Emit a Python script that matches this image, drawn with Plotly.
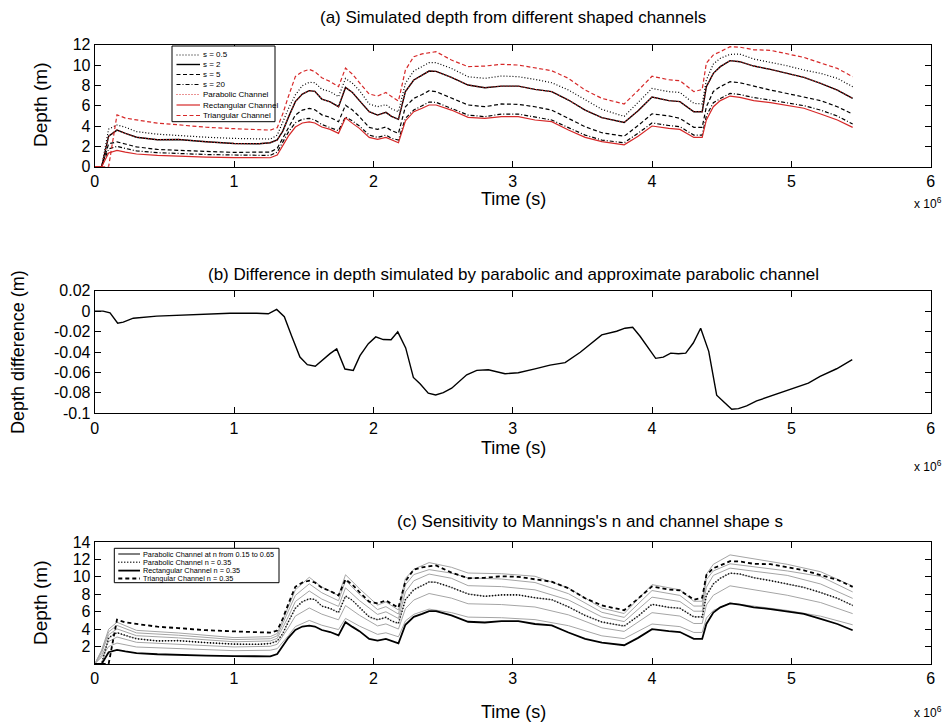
import plotly.graph_objects as go

W, H = 946, 723

# ---------------- data (time in units of 10^6 s) ----------------
TIME = [0, 0.05, 0.1, 0.16, 0.22, 0.3, 0.45, 0.6, 0.8, 1.0, 1.18, 1.26, 1.31, 1.35, 1.39, 1.44,
        1.49, 1.54, 1.58, 1.63, 1.69, 1.75, 1.8, 1.85, 1.9, 1.97, 2.03, 2.09, 2.13, 2.18, 2.23,
        2.29, 2.35, 2.4, 2.45, 2.56, 2.68, 2.8, 2.92, 3.04, 3.16, 3.28, 3.4, 3.52, 3.64, 3.8,
        3.9, 4.0, 4.12, 4.2, 4.3, 4.36, 4.39, 4.44, 4.49, 4.56, 4.63, 4.73, 4.85, 4.97, 5.09,
        5.21, 5.33, 5.44]

S_05 = [0, 0, 3.7, 4.1, 3.88, 3.45, 3.2, 3.05, 2.9, 2.78, 2.7, 2.72, 3.1, 4.4, 5.7, 7.06, 7.97,
        8.3, 8.26, 7.62, 7.38, 6.88, 8.68, 8.2, 7.5, 6.17, 5.9, 6.1, 5.7, 5.41, 8.2, 9.41, 9.9,
        10.23, 10.23, 9.67, 8.85, 8.69, 8.92, 8.85, 8.59, 8.26, 7.54, 6.56, 5.64, 4.95, 6.3, 7.7,
        7.38, 7.3, 6.23, 6.17, 8.53, 10.1, 10.66, 11.05, 11.08, 10.59, 10.26, 9.93, 9.51, 9.18,
        8.69, 7.87]
S_2 = [0, 0, 3.0, 3.6, 3.28, 2.9, 2.65, 2.68, 2.45, 2.28, 2.26, 2.36, 2.63, 3.5, 4.85, 6.4, 7.15,
       7.48, 7.41, 6.65, 6.37, 5.9, 7.8, 7.3, 6.5, 5.41, 5.08, 5.35, 4.95, 4.66, 7.38, 8.53, 9.0,
       9.41, 9.38, 8.79, 8.03, 7.77, 7.93, 7.93, 7.6, 7.38, 6.56, 5.57, 4.82, 4.35, 5.5, 6.85,
       6.5, 6.4, 5.41, 5.41, 7.87, 9.18, 9.84, 10.43, 10.33, 9.9, 9.57, 9.18, 8.79, 8.2, 7.54,
       6.72]
S_5 = [0, 0, 2.25, 2.44, 2.23, 1.95, 1.7, 1.6, 1.5, 1.41, 1.41, 1.44, 1.8, 2.85, 3.9, 5.08, 5.57,
       5.74, 5.6, 5.1, 4.85, 4.42, 6.05, 5.57, 4.92, 3.87, 3.67, 3.9, 3.55, 3.28, 5.9, 6.72, 7.1,
       7.48, 7.38, 6.72, 6.07, 5.9, 6.17, 6.13, 5.9, 5.57, 4.76, 3.93, 3.34, 3.0, 4.05, 5.2, 5.0,
       4.76, 3.87, 3.87, 5.9, 7.4, 7.87, 8.36, 8.26, 7.9, 7.54, 7.2, 6.85, 6.5, 5.9, 5.18]
S_20 = [0, 0, 1.75, 2.0, 1.8, 1.55, 1.38, 1.28, 1.2, 1.15, 1.11, 1.11, 1.44, 2.4, 3.4, 4.33, 4.66,
        4.76, 4.6, 4.15, 3.87, 3.54, 4.9, 4.5, 4.0, 3.11, 2.88, 3.11, 2.8, 2.62, 4.76, 5.57, 6.0,
        6.36, 6.33, 5.74, 5.08, 4.92, 5.18, 5.18, 4.85, 4.59, 3.84, 3.11, 2.62, 2.35, 3.3, 4.3,
        4.05, 3.93, 3.11, 3.11, 5.0, 6.3, 6.7, 7.21, 7.1, 6.8, 6.56, 6.3, 6.0, 5.57, 4.98, 4.2]
PARABOLIC = [0, 0, 3.0, 3.6, 3.28, 2.9, 2.65, 2.68, 2.45, 2.28, 2.26, 2.36, 2.63, 3.5, 4.85, 6.4,
             7.15, 7.48, 7.41, 6.65, 6.37, 5.9, 7.8, 7.3, 6.5, 5.41, 5.08, 5.35, 4.95, 4.66, 7.38,
             8.53, 9.0, 9.41, 9.38, 8.79, 8.03, 7.77, 7.93, 7.93, 7.6, 7.38, 6.56, 5.57, 4.82,
             4.35, 5.5, 6.85, 6.5, 6.4, 5.41, 5.41, 7.87, 9.18, 9.84, 10.43, 10.33, 9.9, 9.57,
             9.18, 8.79, 8.2, 7.54, 6.72]
RECTANGULAR = [0, 0, 1.35, 1.61, 1.44, 1.25, 1.12, 1.02, 0.95, 0.9, 0.88, 0.88, 1.15, 2.05, 3.0,
               3.9, 4.3, 4.4, 4.3, 3.9, 3.67, 3.28, 4.8, 4.26, 3.77, 2.88, 2.69, 2.88, 2.63, 2.36,
               4.5, 5.41, 5.75, 6.07, 6.07, 5.57, 4.85, 4.76, 4.92, 4.92, 4.59, 4.43, 3.61, 2.88,
               2.46, 2.15, 3.0, 4.0, 3.77, 3.67, 2.88, 2.88, 4.6, 5.9, 6.5, 6.95, 6.82, 6.5, 6.3,
               6.0, 5.75, 5.18, 4.59, 3.87]
TRIANGULAR = [0, 0, 0, 5.1, 4.78, 4.6, 4.28, 4.12, 3.88, 3.74, 3.6, 3.6, 3.84, 5.2, 6.9, 8.86,
              9.35, 9.57, 9.35, 8.75, 8.38, 7.87, 9.7, 9.1, 8.26, 7.15, 6.95, 7.3, 6.9, 6.46, 9.51,
              10.82, 11.1, 11.21, 11.31, 10.49, 9.84, 9.9, 10.07, 10.0, 9.74, 9.44, 8.69, 7.54,
              6.72, 6.17, 7.5, 8.9, 8.55, 8.46, 7.38, 7.6, 10.2, 11.0, 11.31, 11.8, 11.76, 11.5,
              11.45, 11.1, 10.75, 10.2, 9.67, 8.85]

TIME_DIFF = [0, 0.06, 0.11, 0.165, 0.205, 0.277, 0.445, 0.684, 0.971, 1.163, 1.246, 1.306, 1.361,
             1.414, 1.473, 1.526, 1.583, 1.689, 1.737, 1.796, 1.856, 1.904, 1.964, 2.017, 2.071,
             2.127, 2.175, 2.232, 2.287, 2.335, 2.394, 2.447, 2.502, 2.562, 2.67, 2.742, 2.825,
             2.945, 3.04, 3.16, 3.268, 3.376, 3.485, 3.639, 3.746, 3.806, 3.861, 3.914, 4.026,
             4.081, 4.134, 4.189, 4.242, 4.296, 4.349, 4.407, 4.464, 4.512, 4.572, 4.62, 4.679,
             4.751, 4.847, 4.942, 5.062, 5.122, 5.206, 5.325, 5.437]
DEPTH_DIFF = [0, 0, -0.0016, -0.0118, -0.0108, -0.0069, -0.0049, -0.0036, -0.002, -0.002, -0.0026,
              0.0017, -0.0055, -0.0246, -0.0449, -0.0524, -0.054, -0.0416, -0.037, -0.0567,
              -0.058, -0.0436, -0.0318, -0.0252, -0.0278, -0.028, -0.0203, -0.036, -0.0649,
              -0.0711, -0.0803, -0.082, -0.0797, -0.0754, -0.0623, -0.058, -0.0574, -0.0613,
              -0.0603, -0.0565, -0.0529, -0.0504, -0.0403, -0.0233, -0.0197, -0.0167, -0.0158,
              -0.0246, -0.0462, -0.045, -0.0411, -0.0417, -0.0411, -0.0312, -0.0167, -0.0394,
              -0.0823, -0.0885, -0.096, -0.0954, -0.0928, -0.0879, -0.0836, -0.0787, -0.0738,
              -0.0705, -0.0639, -0.0564, -0.0475]

TIME_N = [0, 0.05, 0.1, 0.16, 0.3, 0.6, 1.0, 1.26, 1.31, 1.39, 1.44, 1.54, 1.63, 1.75, 1.8, 1.9,
          2.03, 2.09, 2.18, 2.23, 2.29, 2.4, 2.56, 2.68, 2.92, 3.16, 3.4, 3.64, 3.8, 4.0, 4.2,
          4.3, 4.36, 4.39, 4.44, 4.56, 4.73, 4.97, 5.21, 5.44]
PARAB_N015 = [0, 0.8, 2.0, 2.4, 1.95, 1.8, 1.53, 1.58, 1.76, 3.25, 4.29, 5.0, 4.45, 3.95, 5.23,
              4.35, 3.4, 3.58, 3.12, 4.94, 5.7, 6.3, 5.9, 5.38, 5.31, 5.09, 4.4, 3.23, 2.91, 4.59,
              4.29, 3.62, 3.62, 5.27, 6.15, 6.99, 6.63, 6.15, 5.49, 4.5]
PARAB_N025 = [0, 1.0, 2.58, 3.1, 2.49, 2.3, 1.96, 2.03, 2.26, 4.17, 5.5, 6.43, 5.72, 5.07, 6.71,
              5.59, 4.37, 4.6, 4.01, 6.35, 7.34, 8.09, 7.56, 6.91, 6.82, 6.54, 5.64, 4.15, 3.74,
              5.89, 5.5, 4.65, 4.65, 6.77, 7.89, 8.97, 8.51, 7.89, 7.05, 5.78]
PARAB_N045 = [0, 1.3, 3.36, 4.03, 3.25, 3.0, 2.55, 2.64, 2.95, 5.43, 7.17, 8.38, 7.45, 6.61, 8.74,
              7.28, 5.69, 5.99, 5.22, 8.27, 9.55, 10.32, 9.84, 8.99, 8.88, 8.51, 7.35, 5.4, 4.87,
              7.67, 7.17, 6.06, 6.06, 8.81, 10.17, 11.0, 10.65, 10.17, 9.18, 7.53]
PARAB_N055 = [0, 1.5, 3.69, 4.43, 3.57, 3.3, 2.8, 2.9, 3.23, 5.97, 7.87, 9.2, 8.18, 7.26, 9.59,
              8.0, 6.25, 6.58, 5.73, 9.08, 10.26, 10.83, 10.43, 9.88, 9.75, 9.35, 8.07, 5.93, 5.35,
              8.43, 7.87, 6.65, 6.65, 9.68, 10.68, 11.5, 11.16, 10.68, 10.05, 8.27]
PARAB_N065 = [0, 1.6, 3.99, 4.79, 3.86, 3.56, 3.03, 3.14, 3.5, 6.45, 8.51, 9.95, 8.84, 7.85, 10.24,
              8.65, 6.76, 7.12, 6.2, 9.82, 10.87, 11.64, 11.1, 10.44, 10.36, 10.07, 8.72, 6.41,
              5.79, 9.11, 8.51, 7.2, 7.2, 10.3, 11.44, 12.52, 12.06, 11.44, 10.59, 8.94]

X_TICKS = [0, 1, 2, 3, 4, 5, 6]
Y1_TICKS = [0, 2, 4, 6, 8, 10, 12]
Y2_TICKS = [0.02, 0, -0.02, -0.04, -0.06, -0.08, -0.1]
Y2_LABELS = ["0.02", "0", "-0.02", "-0.04", "-0.06", "-0.08", "-0.1"]
Y3_TICKS = [2, 4, 6, 8, 10, 12, 14]

# ---------------- styling ----------------
FONT = "Liberation Sans, Arial, Helvetica, sans-serif"
RED = "rgb(214,40,40)"
GRAY = "rgb(165,165,165)"
DOT = "1px,2px"
DASH = "4px,2.5px"
DASHDOT = "4px,2px,1px,2px"


def fx(px):
    return px / W


def fy(py):
    return 1 - py / H


X0, X1 = 94.7, 930.7
PANELS = {"a": (44.7, 166.7), "b": (290.7, 413.3), "c": (542.0, 664.0)}

fig = go.Figure()

series_a = [
    ("s = 0.5", S_05, "black", DOT, 1.2),
    ("s = 2", S_2, "black", "solid", 1.4),
    ("s = 5", S_5, "black", DASH, 1.2),
    ("s = 20", S_20, "black", DASHDOT, 1.2),
    ("Parabolic Channel", PARABOLIC, RED, DOT, 1.2),
    ("Rectangular Channel", RECTANGULAR, RED, "solid", 1.2),
    ("Triangular Channel", TRIANGULAR, RED, DASH, 1.2),
]
for name, ys, col, dash, w in series_a:
    fig.add_trace(go.Scatter(x=TIME, y=ys, mode="lines", name=name, showlegend=False,
                             line=dict(color=col, dash=dash, width=w), xaxis="x", yaxis="y"))

fig.add_trace(go.Scatter(x=TIME_DIFF, y=DEPTH_DIFF, mode="lines", showlegend=False,
                         line=dict(color="black", width=1.4), xaxis="x2", yaxis="y2"))

for ys in [PARAB_N015, PARAB_N025, PARABOLIC, PARAB_N045, PARAB_N055, PARAB_N065]:
    xs = TIME_N if ys is not PARABOLIC else TIME
    fig.add_trace(go.Scatter(x=xs, y=ys, mode="lines", showlegend=False,
                             line=dict(color=GRAY, width=1), xaxis="x3", yaxis="y3"))
series_c = [
    ("Parabolic Channel at n from 0.15 to 0.65", None, GRAY, "solid", 1),
    ("Parabolic Channel n = 0.35", PARABOLIC, "black", DOT, 1.6),
    ("Rectangular Channel n = 0.35", RECTANGULAR, "black", "solid", 1.8),
    ("Triangular Channel n = 0.35", TRIANGULAR, "black", "4px,3px", 1.8),
]
for name, ys, col, dash, w in series_c:
    if ys is None:
        continue
    fig.add_trace(go.Scatter(x=TIME, y=ys, mode="lines", showlegend=False,
                             line=dict(color=col, dash=dash, width=w), xaxis="x3", yaxis="y3"))

axis_common = dict(showline=True, linecolor="black", linewidth=1, mirror="ticks",
                   ticks="inside", ticklen=6, tickcolor="black", showgrid=False,
                   zeroline=False, automargin=False,
                   tickfont=dict(family=FONT, size=16, color="black"))

layout = dict(width=W, height=H, margin=dict(l=0, r=0, t=0, b=0, pad=0, autoexpand=False),
              paper_bgcolor="white", plot_bgcolor="white", showlegend=False,
              font=dict(family=FONT, color="black"))
for i, key in enumerate(["a", "b", "c"]):
    top, bot = PANELS[key]
    sfx = "" if i == 0 else str(i + 1)
    layout["xaxis" + sfx] = dict(axis_common, domain=[fx(X0), fx(X1)], range=[0, 6],
                                 tickvals=X_TICKS, anchor="y" + sfx)
    ydict = dict(axis_common, domain=[fy(bot), fy(top)], anchor="x" + sfx)
    if key == "a":
        ydict.update(range=[0, 12], tickvals=Y1_TICKS)
    elif key == "b":
        ydict.update(range=[-0.1, 0.02], tickvals=Y2_TICKS, ticktext=Y2_LABELS)
    else:
        ydict.update(range=[0, 14], tickvals=Y3_TICKS)
    layout["yaxis" + sfx] = ydict
fig.update_layout(**layout)

ann = []
def text(s, px, py, size, xanchor="center", yanchor="middle", angle=0):
    ann.append(dict(text=s, x=fx(px), y=fy(py), xref="paper", yref="paper", showarrow=False,
                    xanchor=xanchor, yanchor=yanchor, textangle=angle,
                    font=dict(family=FONT, size=size, color="black")))

text("(a) Simulated depth from different shaped channels", 513, 17, 17)
text("(b) Difference in depth simulated by parabolic and approximate parabolic channel", 513, 274, 17)
text("(c) Sensitivity to Mannings's n and channel shape s", 590, 521, 17)
text("Time (s)", 513, 199, 18)
text("Time (s)", 513, 448, 18)
text("Time (s)", 513, 712, 18)
text("Depth (m)", 40, 105, 19, angle=-90)
text("Depth difference (m)", 18, 352, 18, angle=-90)
text("Depth (m)", 40, 603, 19, angle=-90)
for py in (203, 466, 712):
    text("x 10<sup>6</sup>", 944, py, 12, xanchor="right")

shapes = []
# legend (a)
shapes.append(dict(type="rect", xref="paper", yref="paper", x0=fx(172), x1=fx(275),
                   y0=fy(121.7), y1=fy(46), line=dict(color="black", width=1),
                   fillcolor="white", layer="above"))
ys_a = [55, 64.5, 74.5, 84.5, 94.5, 105, 115.5]
for (name, _, col, dash, w), py in zip(series_a, ys_a):
    shapes.append(dict(type="line", xref="paper", yref="paper", x0=fx(176.5), x1=fx(200),
                       y0=fy(py), y1=fy(py), line=dict(color=col, dash=dash, width=w),
                       layer="above"))
    text(name, 201, py, 8, xanchor="left")
# legend (c)
shapes.append(dict(type="rect", xref="paper", yref="paper", x0=fx(114.3), x1=fx(279),
                   y0=fy(582.7), y1=fy(548.3), line=dict(color="black", width=1),
                   fillcolor="white", layer="above"))
ys_c = [554, 562.3, 570.6, 578.5]
for (name, _, col, dash, w), py in zip(series_c, ys_c):
    shapes.append(dict(type="line", xref="paper", yref="paper", x0=fx(118.3), x1=fx(140),
                       y0=fy(py), y1=fy(py),
                       line=dict(color=col if col != GRAY else "black", dash=dash, width=w),
                       layer="above"))
    text(name, 141, py, 7.3, xanchor="left")

fig.update_layout(annotations=ann, shapes=shapes)
fig.write_html("out.html", config={"displayModeBar": False},
               post_script="document.body.style.margin='0px';")
